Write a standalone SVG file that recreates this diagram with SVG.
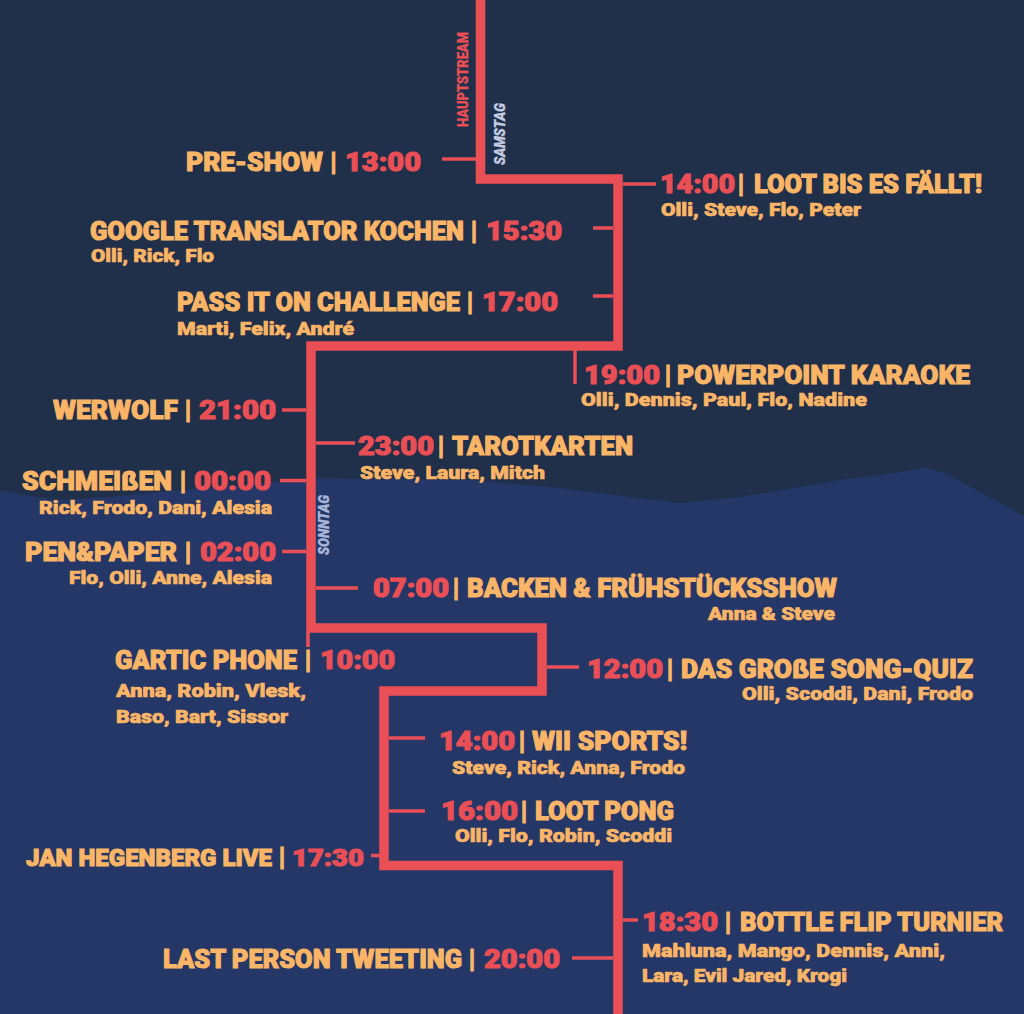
<svg xmlns="http://www.w3.org/2000/svg" width="1024" height="1014" viewBox="0 0 1024 1014">
<style>
text{font-family:"Roboto","Lato","Liberation Sans",sans-serif;font-weight:900}
.t{font-size:25px;fill:#fbb566;stroke:#fbb566;stroke-width:1px;transform:translateY(.5px)}
.c{font-size:25px;fill:#ea4f55;stroke:#ea4f55;stroke-width:1px;transform:translateY(.5px)}
.b{font-size:25px;fill:#fbb566;stroke:#fbb566;stroke-width:1.2px;text-anchor:middle;transform:translateY(.5px)}
.s{font-size:18px;fill:#fbb566;stroke:#fbb566;stroke-width:.6px}
.main{fill:none;stroke:#ea4f55;stroke-width:9.5}
.tick{fill:none;stroke:#ea4f55;stroke-width:3.5}
.r{font-size:14px;stroke-width:.3px}
</style>
<rect width="1024" height="1014" fill="#202f4a"/>
<path d="M0 490L30 496L60 500L110 497L200 488L300 480L317 478L470 480L560 488L630 497L680 503L740 497L840 480L900 472L925 468L945 473L1024 516V1014H0Z" fill="#243767"/>
<g id="connectors">
<path class="main" d="M480.500 0V179H618V346H311V628H542V691H384V865.500H618V1014"/>
<path class="tick" d="M442 159H476M623 184H656M593 228H613M593 296H613M575 350V384M282 410H306M316 443H355M280 480.500H306M282 551.500H306M316 588H358M308 632V647M547 667H579M389 738H425M389 811H425M371 855.500H380M623 920H638M572 958H613"/>
</g>
<g id="labels">
<text class="r" transform="translate(468 127) rotate(-90)" textLength="95" lengthAdjust="spacingAndGlyphs" fill="#ea4f55" stroke="#ea4f55">HAUPTSTREAM</text>
<text class="r" transform="translate(505 165) rotate(-90)" textLength="62" lengthAdjust="spacingAndGlyphs" font-style="italic" fill="#c3cbe0" stroke="#c3cbe0">SAMSTAG</text>
<text class="r" transform="translate(329 555) rotate(-90)" textLength="60" lengthAdjust="spacingAndGlyphs" font-style="italic" fill="#a9b7dd" stroke="#a9b7dd">SONNTAG</text>
</g>
<g id="n1"><text class="t" x="186" y="170" textLength="137" lengthAdjust="spacingAndGlyphs">PRE-SHOW</text><text class="b" x="333.500" y="170">|</text><text class="c" x="345" y="170" textLength="76" lengthAdjust="spacingAndGlyphs">13:00</text></g>
<g id="n2"><text class="c" x="660" y="192" textLength="75" lengthAdjust="spacingAndGlyphs">14:00</text><text class="b" x="741" y="192">|</text><text class="t" x="754" y="192" textLength="228" lengthAdjust="spacingAndGlyphs">LOOT BIS ES FÄLLT!</text><text class="s" x="661" y="215.500" textLength="200" lengthAdjust="spacingAndGlyphs">Olli, Steve, Flo, Peter</text></g>
<g id="n3"><text class="t" x="90" y="239" textLength="374" lengthAdjust="spacingAndGlyphs">GOOGLE TRANSLATOR KOCHEN</text><text class="b" x="474" y="239">|</text><text class="c" x="486" y="239" textLength="76" lengthAdjust="spacingAndGlyphs">15:30</text><text class="s" x="91" y="261.500" textLength="123" lengthAdjust="spacingAndGlyphs">Olli, Rick, Flo</text></g>
<g id="n4"><text class="t" x="177" y="310" textLength="283" lengthAdjust="spacingAndGlyphs">PASS IT ON CHALLENGE</text><text class="b" x="470" y="310">|</text><text class="c" x="482" y="310" textLength="76" lengthAdjust="spacingAndGlyphs">17:00</text><text class="s" x="177" y="335" textLength="177" lengthAdjust="spacingAndGlyphs">Marti, Felix, André</text></g>
<g id="n5"><text class="c" x="584" y="383" textLength="76" lengthAdjust="spacingAndGlyphs">19:00</text><text class="b" x="668" y="383">|</text><text class="t" x="677" y="383" textLength="293" lengthAdjust="spacingAndGlyphs">POWERPOINT KARAOKE</text><text class="s" x="581" y="405.500" textLength="286" lengthAdjust="spacingAndGlyphs">Olli, Dennis, Paul, Flo, Nadine</text></g>
<g id="n6"><text class="t" x="53" y="418" textLength="125" lengthAdjust="spacingAndGlyphs">WERWOLF</text><text class="b" x="188" y="418">|</text><text class="c" x="199" y="418" textLength="77" lengthAdjust="spacingAndGlyphs">21:00</text></g>
<g id="n7"><text class="c" x="358" y="454" textLength="76" lengthAdjust="spacingAndGlyphs">23:00</text><text class="b" x="441" y="454">|</text><text class="t" x="452" y="454" textLength="181" lengthAdjust="spacingAndGlyphs">TAROTKARTEN</text><text class="s" x="360" y="478.500" textLength="185" lengthAdjust="spacingAndGlyphs">Steve, Laura, Mitch</text></g>
<g id="n8"><text class="t" x="22" y="489" textLength="150" lengthAdjust="spacingAndGlyphs">SCHMEIßEN</text><text class="b" x="183" y="489">|</text><text class="c" x="194" y="489" textLength="77" lengthAdjust="spacingAndGlyphs">00:00</text><text class="s" x="39" y="513.500" textLength="233" lengthAdjust="spacingAndGlyphs">Rick, Frodo, Dani, Alesia</text></g>
<g id="n9"><text class="t" x="25" y="560" textLength="152" lengthAdjust="spacingAndGlyphs">PEN&amp;PAPER</text><text class="b" x="188" y="560">|</text><text class="c" x="200" y="560" textLength="76" lengthAdjust="spacingAndGlyphs">02:00</text><text class="s" x="69" y="583.500" textLength="203" lengthAdjust="spacingAndGlyphs">Flo, Olli, Anne, Alesia</text></g>
<g id="n10"><text class="c" x="373" y="596" textLength="76" lengthAdjust="spacingAndGlyphs">07:00</text><text class="b" x="456" y="596">|</text><text class="t" x="467" y="596" textLength="370" lengthAdjust="spacingAndGlyphs">BACKEN &amp; FRÜHSTÜCKSSHOW</text><text class="s" x="708" y="619.500" textLength="127" lengthAdjust="spacingAndGlyphs">Anna &amp; Steve</text></g>
<g id="n11"><text class="t" x="115" y="668" textLength="182" lengthAdjust="spacingAndGlyphs">GARTIC PHONE</text><text class="b" x="308" y="668">|</text><text class="c" x="320" y="668" textLength="75" lengthAdjust="spacingAndGlyphs">10:00</text><text class="s" x="116" y="697" textLength="190" lengthAdjust="spacingAndGlyphs">Anna, Robin, Vlesk,</text><text class="s" x="116" y="723" textLength="172" lengthAdjust="spacingAndGlyphs">Baso, Bart, Sissor</text></g>
<g id="n12"><text class="c" x="587" y="677" textLength="76" lengthAdjust="spacingAndGlyphs">12:00</text><text class="b" x="670" y="677">|</text><text class="t" x="681" y="677" textLength="292" lengthAdjust="spacingAndGlyphs">DAS GROßE SONG-QUIZ</text><text class="s" x="742" y="700" textLength="231" lengthAdjust="spacingAndGlyphs">Olli, Scoddi, Dani, Frodo</text></g>
<g id="n13"><text class="c" x="439" y="749" textLength="76" lengthAdjust="spacingAndGlyphs">14:00</text><text class="b" x="522" y="749">|</text><text class="t" x="532" y="749" textLength="155" lengthAdjust="spacingAndGlyphs">WII SPORTS!</text><text class="s" x="452" y="774" textLength="233" lengthAdjust="spacingAndGlyphs">Steve, Rick, Anna, Frodo</text></g>
<g id="n14"><text class="c" x="441" y="819" textLength="77" lengthAdjust="spacingAndGlyphs">16:00</text><text class="b" x="524" y="819">|</text><text class="t" x="535" y="819" textLength="139" lengthAdjust="spacingAndGlyphs">LOOT PONG</text><text class="s" x="455" y="842" textLength="217" lengthAdjust="spacingAndGlyphs">Olli, Flo, Robin, Scoddi</text></g>
<g id="n15"><text class="t" x="26" y="865" style="font-size:23px" textLength="246" lengthAdjust="spacingAndGlyphs">JAN HEGENBERG LIVE</text><text class="b" x="282" y="865">|</text><text class="c" x="292" y="865" style="font-size:23px" textLength="72" lengthAdjust="spacingAndGlyphs">17:30</text></g>
<g id="n16"><text class="c" x="642" y="930" textLength="76" lengthAdjust="spacingAndGlyphs">18:30</text><text class="b" x="728" y="930">|</text><text class="t" x="740" y="930" textLength="263" lengthAdjust="spacingAndGlyphs">BOTTLE FLIP TURNIER</text><text class="s" x="642" y="957" textLength="303" lengthAdjust="spacingAndGlyphs">Mahluna, Mango, Dennis, Anni,</text><text class="s" x="642" y="982" textLength="205" lengthAdjust="spacingAndGlyphs">Lara, Evil Jared, Krogi</text></g>
<g id="n17"><text class="t" x="163" y="967" textLength="299" lengthAdjust="spacingAndGlyphs">LAST PERSON TWEETING</text><text class="b" x="472" y="967">|</text><text class="c" x="484" y="967" textLength="76" lengthAdjust="spacingAndGlyphs">20:00</text></g>
</svg>
